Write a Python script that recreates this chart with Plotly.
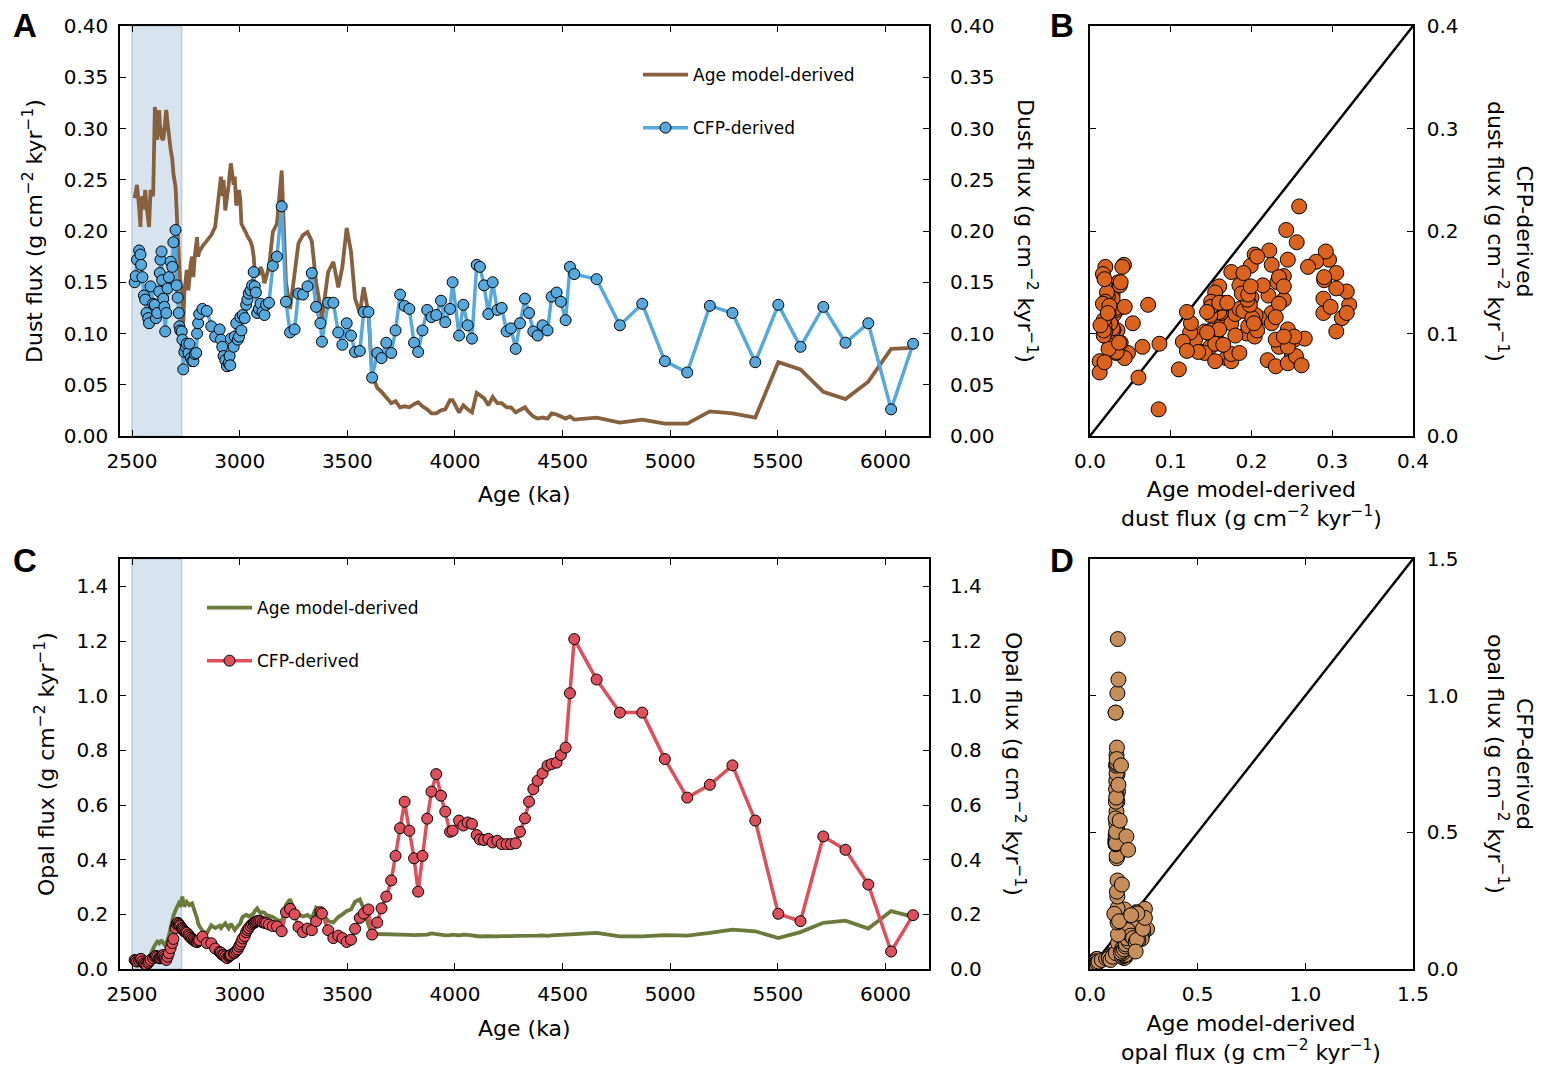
import plotly.graph_objects as go

# Sample ages (ka) shared by all four records
age = [
    2512, 2517, 2523, 2533, 2539, 2542, 2548, 2555, 2561, 2567,
    2575, 2579, 2586, 2598, 2606, 2611, 2617, 2626, 2629, 2632,
    2637, 2640, 2645, 2650, 2654, 2659, 2665, 2671, 2679, 2687,
    2692, 2702, 2707, 2712, 2717, 2720, 2724, 2731, 2734, 2738,
    2743, 2749, 2754, 2762, 2766, 2773, 2779, 2785, 2791, 2798,
    2802, 2807, 2812, 2827, 2847, 2868, 2886, 2907, 2913, 2919,
    2925, 2933, 2941, 2949, 2953, 2956, 2959, 2972, 2977, 2984,
    2991, 2997, 3003, 3008, 3014, 3023, 3030, 3036, 3042, 3050,
    3058, 3065, 3070, 3075, 3081, 3089, 3097, 3106, 3115, 3123,
    3136, 3154, 3173, 3195, 3215, 3234, 3255, 3273, 3294, 3315,
    3335, 3355, 3375, 3382, 3411, 3435, 3458, 3477, 3497, 3517,
    3536, 3558, 3576, 3598, 3615, 3639, 3659, 3681, 3704, 3724,
    3745, 3766, 3788, 3810, 3829, 3849, 3871, 3891, 3913, 3935,
    3955, 3977, 3989, 4019, 4039, 4059, 4079, 4101, 4116, 4135,
    4155, 4175, 4197, 4217, 4240, 4260, 4282, 4302, 4325, 4344,
    4364, 4384, 4407, 4430, 4449, 4472, 4492, 4514, 4534, 4554,
    4658, 4766, 4870, 4975, 5079, 5184, 5289, 5395, 5502, 5605,
    5711, 5814, 5920, 6026, 6128,
]

# Dust flux, age model-derived (g cm-2 kyr-1)
dust_age_model = [
    0.232, 0.240, 0.245, 0.222, 0.204, 0.225, 0.234, 0.221, 0.240, 0.225,
    0.210, 0.204, 0.240, 0.234, 0.321, 0.312, 0.289, 0.318, 0.305, 0.296,
    0.292, 0.290, 0.289, 0.298, 0.305, 0.318, 0.305, 0.290, 0.280, 0.270,
    0.256, 0.243, 0.214, 0.200, 0.175, 0.162, 0.150, 0.142, 0.130, 0.110,
    0.140, 0.149, 0.162, 0.142, 0.155, 0.169, 0.175, 0.155, 0.175, 0.185,
    0.194, 0.175, 0.180, 0.185, 0.190, 0.196, 0.204, 0.245, 0.253, 0.234,
    0.250, 0.220, 0.230, 0.245, 0.255, 0.262, 0.266, 0.245, 0.253, 0.225,
    0.230, 0.240, 0.230, 0.207, 0.205, 0.201, 0.198, 0.195, 0.193, 0.190,
    0.185, 0.175, 0.160, 0.155, 0.162, 0.157, 0.165, 0.160, 0.149, 0.155,
    0.165, 0.199, 0.207, 0.259, 0.150, 0.124, 0.160, 0.188, 0.196, 0.199,
    0.190, 0.150, 0.125, 0.115, 0.160, 0.170, 0.145, 0.165, 0.203, 0.180,
    0.134, 0.120, 0.145, 0.120, 0.060, 0.047, 0.043, 0.038, 0.032, 0.034,
    0.028, 0.029, 0.028, 0.031, 0.033, 0.029, 0.026, 0.022, 0.022, 0.025,
    0.026, 0.035, 0.035, 0.023, 0.030, 0.026, 0.023, 0.042, 0.040, 0.037,
    0.030, 0.038, 0.032, 0.032, 0.028, 0.028, 0.023, 0.025, 0.028, 0.023,
    0.019, 0.017, 0.018, 0.017, 0.022, 0.021, 0.019, 0.017, 0.019, 0.016,
    0.018, 0.013, 0.016, 0.012, 0.012, 0.024, 0.022, 0.018, 0.072, 0.065,
    0.043, 0.036, 0.053, 0.085, 0.086,
]

# Dust flux, CFP-derived
dust_cfp = [
    0.150, 0.156, 0.172, 0.181, 0.177, 0.167, 0.155, 0.137, 0.133, 0.120,
    0.115, 0.110, 0.146, 0.129, 0.128, 0.115, 0.120, 0.141, 0.159, 0.172,
    0.180, 0.152, 0.134, 0.126, 0.102, 0.120, 0.144, 0.155, 0.170, 0.165,
    0.189, 0.201, 0.147, 0.135, 0.120, 0.107, 0.103, 0.102, 0.094, 0.065,
    0.082, 0.087, 0.090, 0.081, 0.090, 0.076, 0.073, 0.073, 0.080, 0.081,
    0.100, 0.110, 0.119, 0.124, 0.122, 0.107, 0.097, 0.104, 0.094, 0.087,
    0.078, 0.074, 0.068, 0.071, 0.078, 0.069, 0.095, 0.087, 0.097, 0.110,
    0.094, 0.097, 0.116, 0.103, 0.118, 0.115, 0.128, 0.133, 0.139, 0.142,
    0.147, 0.160, 0.146, 0.140, 0.120, 0.124, 0.129, 0.121, 0.118, 0.128,
    0.130, 0.166, 0.175, 0.224, 0.131, 0.101, 0.104, 0.139, 0.138, 0.146,
    0.159, 0.126, 0.110, 0.092, 0.130, 0.130, 0.101, 0.089, 0.110, 0.098,
    0.082, 0.083, 0.121, 0.121, 0.057, 0.081, 0.076, 0.091, 0.081, 0.103,
    0.138, 0.127, 0.124, 0.091, 0.082, 0.103, 0.123, 0.116, 0.118, 0.132,
    0.111, 0.124, 0.150, 0.098, 0.128, 0.108, 0.095, 0.167, 0.165, 0.147,
    0.119, 0.150, 0.123, 0.125, 0.102, 0.105, 0.085, 0.110, 0.134, 0.120,
    0.102, 0.098, 0.108, 0.103, 0.136, 0.140, 0.131, 0.113, 0.165, 0.158,
    0.153, 0.108, 0.129, 0.073, 0.062, 0.127, 0.120, 0.072, 0.128, 0.087,
    0.126, 0.091, 0.110, 0.026, 0.090,
]

# Opal flux, age model-derived
opal_age_model = [
    0.025, 0.027, 0.030, 0.032, 0.030, 0.033, 0.028, 0.030, 0.025, 0.028,
    0.035, 0.040, 0.055, 0.075, 0.087, 0.095, 0.100, 0.094, 0.098, 0.104,
    0.106, 0.100, 0.095, 0.090, 0.087, 0.095, 0.105, 0.120, 0.150, 0.180,
    0.195, 0.215, 0.225, 0.235, 0.240, 0.237, 0.234, 0.255, 0.265, 0.245,
    0.228, 0.240, 0.246, 0.238, 0.234, 0.238, 0.240, 0.225, 0.212, 0.195,
    0.185, 0.167, 0.158, 0.140, 0.130, 0.160, 0.150, 0.158, 0.150, 0.155,
    0.162, 0.167, 0.158, 0.149, 0.155, 0.160, 0.165, 0.150, 0.143, 0.150,
    0.158, 0.165, 0.167, 0.180, 0.190, 0.195, 0.198, 0.196, 0.192, 0.195,
    0.200, 0.204, 0.212, 0.218, 0.222, 0.212, 0.204, 0.208, 0.206, 0.198,
    0.195, 0.190, 0.180, 0.173, 0.235, 0.255, 0.215, 0.200, 0.192, 0.198,
    0.186, 0.225, 0.215, 0.208, 0.175, 0.170, 0.190, 0.200, 0.212, 0.218,
    0.246, 0.255, 0.220, 0.160, 0.130, 0.128, 0.128, 0.127, 0.128, 0.127,
    0.126, 0.127, 0.125, 0.124, 0.125, 0.124, 0.126, 0.130, 0.128, 0.124,
    0.123, 0.124, 0.126, 0.123, 0.126, 0.125, 0.122, 0.119, 0.119, 0.120,
    0.119, 0.118, 0.119, 0.120, 0.119, 0.120, 0.121, 0.121, 0.119, 0.120,
    0.121, 0.122, 0.123, 0.121, 0.123, 0.124, 0.123, 0.125, 0.127, 0.129,
    0.132, 0.119, 0.119, 0.124, 0.122, 0.132, 0.144, 0.138, 0.113, 0.135,
    0.169, 0.177, 0.148, 0.212, 0.191,
]

# Opal flux, CFP-derived
opal_cfp = [
    0.033, 0.030, 0.027, 0.030, 0.036, 0.037, 0.028, 0.021, 0.018, 0.015,
    0.022, 0.027, 0.033, 0.039, 0.045, 0.048, 0.044, 0.040, 0.039, 0.042,
    0.046, 0.049, 0.051, 0.045, 0.039, 0.033, 0.045, 0.058, 0.076, 0.095,
    0.110, 0.150, 0.165, 0.169, 0.165, 0.160, 0.157, 0.150, 0.146, 0.142,
    0.138, 0.135, 0.132, 0.126, 0.120, 0.115, 0.110, 0.106, 0.102, 0.100,
    0.098, 0.103, 0.106, 0.118, 0.095, 0.094, 0.075, 0.062, 0.060, 0.052,
    0.050, 0.046, 0.040, 0.045, 0.048, 0.050, 0.052, 0.057, 0.060, 0.066,
    0.072, 0.082, 0.090, 0.100, 0.112, 0.120, 0.135, 0.143, 0.150, 0.158,
    0.164, 0.168, 0.171, 0.173, 0.175, 0.176, 0.175, 0.171, 0.169, 0.168,
    0.163, 0.157, 0.156, 0.138, 0.208, 0.220, 0.200, 0.154, 0.135, 0.148,
    0.142, 0.175, 0.208, 0.203, 0.142, 0.113, 0.122, 0.113, 0.099, 0.107,
    0.147, 0.187, 0.203, 0.218, 0.126, 0.170, 0.222, 0.265, 0.324, 0.414,
    0.515, 0.612, 0.506, 0.405, 0.283, 0.414, 0.550, 0.649, 0.713, 0.634,
    0.576, 0.502, 0.506, 0.543, 0.525, 0.536, 0.531, 0.490, 0.474, 0.472,
    0.476, 0.463, 0.469, 0.457, 0.457, 0.457, 0.460, 0.502, 0.551, 0.612,
    0.658, 0.689, 0.716, 0.744, 0.750, 0.755, 0.783, 0.810, 1.009, 1.207,
    1.059, 0.938, 0.938, 0.768, 0.627, 0.674, 0.745, 0.543, 0.202, 0.175,
    0.485, 0.436, 0.309, 0.064, 0.197,
]

# Shaded interval (ka) and axis limits
shade_interval = [2500, 2730]
age_range = [2444, 6202]
dust_range = [0, 0.4]
opal_range = [0, 1.5]
age_ticks = [2500, 3000, 3500, 4000, 4500, 5000, 5500, 6000]

FONT = "DejaVu Sans"
BROWN = "#87603e"
BLUE = "#56a8dd"
GREEN = "#6a7a3b"
RED = "#dd4f5b"
ORANGE = "#d9631f"
TAN = "#c78e5c"

# The page body keeps its default 8px margin, so the figure is drawn
# 8px smaller and every position below is given in window pixels.
PAGE_PAD = 8
W, H = 1554 - PAGE_PAD, 1068 - PAGE_PAD


def px_x(p):
    return (p - PAGE_PAD) / W


def px_y(p):
    return 1 - (p - PAGE_PAD) / H


FLUX_UNIT = "(g cm<sup>−2</sup> kyr<sup>−1</sup>)"

fig = go.Figure()

# ---- Panel A: dust flux time series
fig.add_trace(go.Scatter(
    x=age, y=dust_age_model, xaxis="x", yaxis="y", mode="lines",
    line=dict(color=BROWN, width=3.8), name="Age model-derived",
    legend="legend", legendgroup="a1"))
fig.add_trace(go.Scatter(
    x=age, y=dust_cfp, xaxis="x", yaxis="y2", mode="lines+markers",
    line=dict(color=BLUE, width=3.5),
    marker=dict(size=11, color=BLUE, line=dict(color="black", width=1)),
    name="CFP-derived", legend="legend", legendgroup="a2"))

# ---- Panel B: dust flux comparison
fig.add_trace(go.Scatter(
    x=dust_range, y=dust_range, xaxis="x2", yaxis="y3", mode="lines",
    line=dict(color="black", width=2.4), showlegend=False))
fig.add_trace(go.Scatter(
    x=dust_age_model, y=dust_cfp, xaxis="x2", yaxis="y3", mode="markers",
    marker=dict(size=15, color=ORANGE, line=dict(color="black", width=1)),
    showlegend=False))

# ---- Panel C: opal flux time series
fig.add_trace(go.Scatter(
    x=age, y=opal_age_model, xaxis="x3", yaxis="y4", mode="lines",
    line=dict(color=GREEN, width=3.8), name="Age model-derived",
    legend="legend2", legendgroup="c1"))
fig.add_trace(go.Scatter(
    x=age, y=opal_cfp, xaxis="x3", yaxis="y5", mode="lines+markers",
    line=dict(color=RED, width=3.5),
    marker=dict(size=11, color=RED, line=dict(color="black", width=1)),
    name="CFP-derived", legend="legend2", legendgroup="c2"))

# ---- Panel D: opal flux comparison
fig.add_trace(go.Scatter(
    x=opal_range, y=opal_range, xaxis="x4", yaxis="y6", mode="lines",
    line=dict(color="black", width=2.4), showlegend=False))
fig.add_trace(go.Scatter(
    x=opal_age_model, y=opal_cfp, xaxis="x4", yaxis="y6", mode="markers",
    marker=dict(size=15, color=TAN, line=dict(color="black", width=1)),
    showlegend=False))

tick_font = dict(family=FONT, size=20, color="black")
base_ax = dict(
    showline=True, linecolor="black", linewidth=1.5, mirror="ticks",
    ticks="inside", ticklen=6, tickwidth=1.2, tickcolor="black",
    showgrid=False, zeroline=False, tickfont=tick_font, ticklabelstandoff=6,
    automargin=False,
)

top_dom = [px_y(436), px_y(26)]
bot_dom = [px_y(969), px_y(559)]
left_dom = [px_x(120), px_x(929)]
right_dom = [px_x(1090), px_x(1413)]

legend_style = dict(xanchor="left", yanchor="top", bgcolor="rgba(0,0,0,0)",
                    font=dict(family=FONT, size=17), itemwidth=45,
                    traceorder="grouped", tracegroupgap=28)

fig.update_layout(
    width=W, height=H,
    margin=dict(l=0, r=0, t=0, b=0, autoexpand=False),
    paper_bgcolor="white", plot_bgcolor="white",
    font=dict(family=FONT, size=20, color="black"),
    # A
    xaxis=dict(base_ax, domain=left_dom, anchor="y", range=age_range,
               tickvals=age_ticks),
    yaxis=dict(base_ax, domain=top_dom, anchor="x", range=dust_range,
               dtick=0.05, tick0=0, tickformat=".2f"),
    yaxis2=dict(base_ax, overlaying="y", side="right", anchor="x",
                range=dust_range, dtick=0.05, tick0=0, tickformat=".2f",
                showline=False, ticklabelstandoff=20),
    # B
    xaxis2=dict(base_ax, domain=right_dom, anchor="y3", range=dust_range,
                dtick=0.1, tick0=0, tickformat=".1f"),
    yaxis3=dict(base_ax, domain=top_dom, anchor="x2", side="right",
                range=dust_range, dtick=0.1, tick0=0, tickformat=".1f",
                ticklabelstandoff=8),
    # C
    xaxis3=dict(base_ax, domain=left_dom, anchor="y4", range=age_range,
                tickvals=age_ticks),
    yaxis4=dict(base_ax, domain=bot_dom, anchor="x3", range=opal_range,
                dtick=0.2, tick0=0, tickformat=".1f"),
    yaxis5=dict(base_ax, overlaying="y4", side="right", anchor="x3",
                range=opal_range, dtick=0.2, tick0=0, tickformat=".1f",
                showline=False, ticklabelstandoff=20),
    # D
    xaxis4=dict(base_ax, domain=right_dom, anchor="y6", range=opal_range,
                dtick=0.5, tick0=0, tickformat=".1f"),
    yaxis6=dict(base_ax, domain=bot_dom, anchor="x4", side="right",
                range=opal_range, dtick=0.5, tick0=0, tickformat=".1f",
                ticklabelstandoff=8),
    legend=dict(legend_style, x=px_x(638), y=px_y(57)),
    legend2=dict(legend_style, x=px_x(202), y=px_y(590)),
)

# Shaded interval in A and C
for xref in ["x", "x3"]:
    yref = "y domain" if xref == "x" else "y4 domain"
    fig.add_shape(type="rect", xref=xref, yref=yref,
                  x0=shade_interval[0], x1=shade_interval[1], y0=0, y1=1,
                  fillcolor="#d7e4ef", line=dict(color="#b9cde0", width=1.5),
                  layer="below")

annotations = []
for letter, x, y in [("A", 25, 25), ("B", 1062, 25), ("C", 25, 560), ("D", 1062, 560)]:
    annotations.append(dict(
        text="<b>" + letter + "</b>", x=px_x(x), y=px_y(y),
        xref="paper", yref="paper", showarrow=False,
        xanchor="center", yanchor="middle",
        font=dict(family="Liberation Sans", size=33, color="black")))

titles = [
    ("Dust flux " + FLUX_UNIT, 33, 231, -90),
    ("Dust flux " + FLUX_UNIT, 1027, 231, 90),
    ("Opal flux " + FLUX_UNIT, 45, 764, -90),
    ("Opal flux " + FLUX_UNIT, 1015, 764, 90),
    ("CFP-derived<br>dust flux " + FLUX_UNIT, 1510, 231, 90),
    ("CFP-derived<br>opal flux " + FLUX_UNIT, 1510, 764, 90),
    ("Age (ka)", 524, 494, 0),
    ("Age (ka)", 524, 1028, 0),
    ("Age model-derived<br>dust flux " + FLUX_UNIT, 1251, 504, 0),
    ("Age model-derived<br>opal flux " + FLUX_UNIT, 1251, 1038, 0),
]
for text, x, y, ang in titles:
    annotations.append(dict(
        text=text, x=px_x(x), y=px_y(y), xref="paper", yref="paper",
        showarrow=False, textangle=ang, xanchor="center", yanchor="middle",
        font=dict(family=FONT, size=22, color="black")))

fig.update_layout(annotations=annotations)

fig.write_html("out.html")
